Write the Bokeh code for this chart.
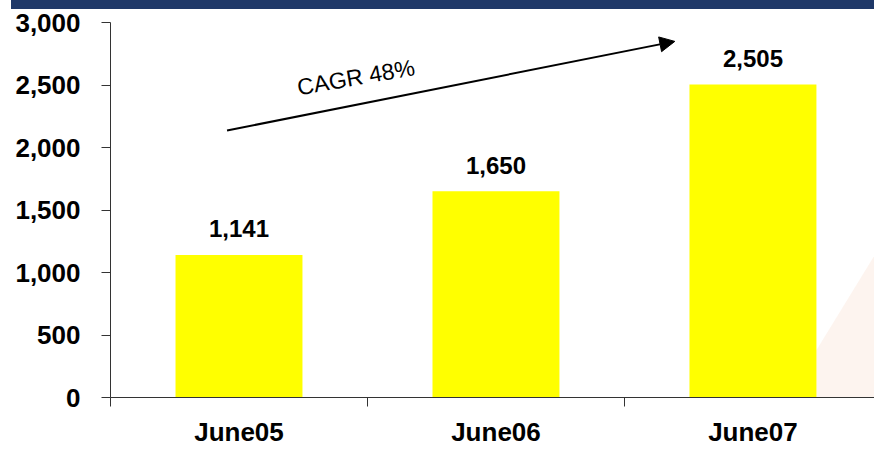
from bokeh.plotting import figure
from bokeh.models import (Range1d, FixedTicker, NumeralTickFormatter, Div, Arrow,
                          NormalHead, Label, ColumnDataSource)
from bokeh.core.properties import value
from bokeh.layouts import column
from bokeh.embed import file_html
from bokeh.resources import INLINE

# Chart data
categories = ["June05", "June06", "June07"]
values = [1141, 1650, 2505]
value_labels = ["1,141", "1,650", "2,505"]
y_ticks = [0, 500, 1000, 1500, 2000, 2500, 3000]
cagr_text = "CAGR 48%"

FONT = "Liberation Sans"
BAR_COLOR = "#FFFF00"
BAND_COLOR = "#1F3868"
AXIS_COLOR = "#333333"

x_centers = [i + 0.5 for i in range(len(categories))]
x_bounds = [i for i in range(len(categories) + 1)]

src = ColumnDataSource(dict(x=x_centers, top=values, label=value_labels))

p = figure(width=874, height=440, output_backend="svg", toolbar_location=None,
           x_range=Range1d(0, 2.973), y_range=Range1d(0, 3000),
           min_border_left=110, min_border_right=0, min_border_top=13,
           min_border_bottom=52)
p.outline_line_color = None
p.grid.visible = False
p.background_fill_color = "white"
p.border_fill_color = "white"

# faint decorative wedge in the lower right corner
p.patch(x=[2.973, 2.973, 2.634], y=[1136, 0, 0], fill_color="#FDF1EB",
        fill_alpha=0.8, line_color=None)

p.vbar(x="x", top="top", width=0.494, source=src, fill_color=BAR_COLOR,
       line_color=None)

p.text(x="x", y="top", text="label", source=src, text_align="center",
       text_baseline="alphabetic", y_offset=-26, text_font=value(FONT),
       text_font_size="24px", text_font_style="bold", text_color="black")

# growth arrow and its caption
p.add_layout(Arrow(x_start=0.4535, y_start=2136, x_end=2.196, y_end=2849,
                   line_color="black", line_width=2,
                   end=NormalHead(size=15, fill_color="black", line_color="black")))
p.add_layout(Label(x=0.727, y=2479, text=cagr_text, angle=10, angle_units="deg",
                   text_font=FONT, text_font_size="23px", text_color="black",
                   text_align="left", text_baseline="alphabetic"))

# axes
xa = p.xaxis[0]
xa.ticker = FixedTicker(ticks=x_centers, minor_ticks=x_bounds)
xa.major_label_overrides = {c: lab for c, lab in zip(x_centers, categories)}
xa.major_tick_out = 0
xa.major_tick_in = 0
xa.minor_tick_out = 9
xa.minor_tick_in = 0
xa.minor_tick_line_color = AXIS_COLOR
xa.axis_line_color = AXIS_COLOR
xa.major_label_standoff = 10
xa.major_label_text_font = FONT
xa.major_label_text_font_size = "26px"
xa.major_label_text_font_style = "bold"
xa.major_label_text_color = "black"

ya = p.yaxis[0]
ya.ticker = FixedTicker(ticks=y_ticks, minor_ticks=[])
ya.formatter = NumeralTickFormatter(format="0,0")
ya.major_tick_out = 9
ya.major_tick_in = 0
ya.major_tick_line_color = AXIS_COLOR
ya.axis_line_color = AXIS_COLOR
ya.major_label_standoff = 21
ya.major_label_text_font = FONT
ya.major_label_text_font_size = "26px"
ya.major_label_text_font_style = "bold"
ya.major_label_text_color = "black"

band = Div(text="", width=863, height=9, margin=(0, 0, 0, 11),
           styles={"background-color": BAND_COLOR})

layout = column(band, p, spacing=0)

open("out.html", "w").write(file_html(layout, INLINE))
